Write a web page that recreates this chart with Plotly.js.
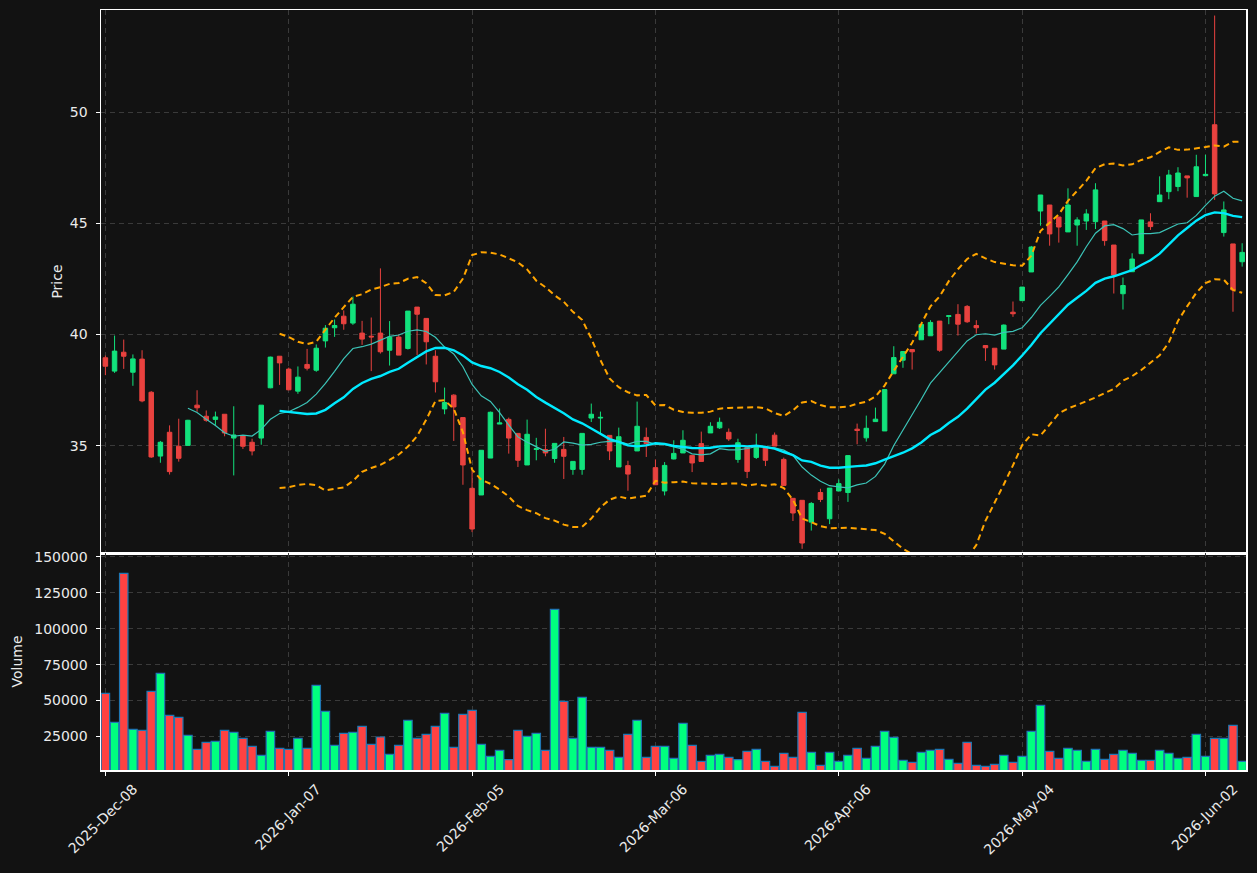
<!DOCTYPE html>
<html>
<head>
<meta charset="utf-8">
<script src="https://cdn.plot.ly/plotly-3.0.1.min.js"></script>
<style>
html,body{margin:0;padding:0;background:#121212;}
#chart{width:1257px;height:873px;}
</style>
</head>
<body>
<div id="chart"></div>
<script>
// Tick labels (trading-day index -> date)
const tickIndex = [0, 20, 40, 60, 80, 100, 120];
const tickLabels = ['2025-Dec-08', '2026-Jan-07', '2026-Feb-05', '2026-Mar-06', '2026-Apr-06', '2026-May-04', '2026-Jun-02'];

// OHLC per trading day
const opens = [38.95,38.35,39.20,38.30,38.89,37.40,34.53,35.60,34.97,35.01,
  36.82,36.32,36.18,36.41,35.34,35.45,35.15,35.34,37.60,39.02,
  38.44,37.45,38.65,38.39,39.71,40.30,40.82,40.51,40.06,39.92,
  40.06,39.29,39.88,39.37,41.23,40.72,39.02,36.65,37.27,36.26,
  33.08,32.78,34.44,35.97,36.18,35.55,34.13,34.83,34.82,34.42,
  34.83,33.93,33.93,36.24,36.24,35.46,34.04,34.10,34.76,35.37,
  34.01,32.96,34.40,34.67,34.56,35.09,35.57,35.80,35.60,34.38,
  34.92,34.47,34.91,35.47,34.38,32.63,32.54,31.56,32.89,31.71,
  32.96,32.89,35.74,35.35,36.08,35.66,38.23,38.84,39.32,39.76,
  39.94,40.60,40.81,40.90,41.26,40.40,39.50,39.38,39.34,41.00,
  41.52,42.81,45.55,45.82,45.28,44.61,44.92,45.10,45.07,45.10,
  44.02,41.83,42.82,43.63,45.06,45.97,46.42,46.65,47.13,46.20,
  47.14,49.43,44.58,44.07,43.27];
const highs = [39.05,39.95,39.77,39.10,39.29,37.45,35.21,35.91,36.21,36.16,
  37.49,36.58,36.53,36.41,36.77,35.45,35.31,36.82,39.00,39.02,
  38.51,38.56,39.35,39.55,40.42,40.67,41.08,41.70,40.61,40.76,
  42.97,40.60,40.00,41.05,41.23,40.72,39.29,37.61,37.31,36.26,
  33.89,34.79,36.53,36.67,36.26,35.55,36.17,35.35,35.76,35.10,
  35.39,34.29,35.55,36.89,36.53,35.46,35.81,34.32,36.98,35.81,
  34.38,34.26,35.24,35.69,34.56,35.63,36.05,36.26,35.77,35.31,
  34.92,35.54,34.91,35.59,34.46,32.63,32.54,32.46,33.06,33.09,
  33.48,34.55,35.99,36.35,36.71,37.52,39.47,39.23,39.32,40.45,
  40.64,40.60,40.87,41.36,41.32,40.64,39.50,39.38,40.45,41.48,
  42.13,43.98,46.27,45.82,45.28,46.57,45.27,45.63,46.80,45.10,
  44.02,42.56,43.65,45.15,45.45,47.11,47.40,47.52,47.13,48.08,
  48.08,54.34,45.98,44.07,44.10];
const lows = [38.17,38.27,38.45,37.69,36.95,34.45,34.23,33.70,34.28,34.99,
  36.52,36.07,35.91,35.42,33.66,34.85,34.56,35.04,37.58,37.73,
  37.49,37.33,38.38,38.32,39.41,39.89,40.21,40.43,39.53,38.35,
  39.14,38.60,39.07,39.32,39.07,38.65,37.39,36.41,35.21,33.24,
  31.11,32.78,34.44,35.97,34.64,34.04,34.13,34.34,34.52,34.23,
  33.50,33.69,33.69,36.06,35.54,34.35,34.04,32.97,34.76,34.49,
  33.24,32.76,34.38,34.67,33.81,34.29,35.57,35.75,35.21,34.23,
  33.54,34.40,34.08,34.98,33.21,31.61,30.36,31.18,32.46,31.47,
  32.96,32.47,35.06,35.18,36.08,35.66,38.23,38.50,38.42,39.76,
  39.94,39.22,40.46,39.95,40.52,40.04,38.81,38.42,39.34,40.79,
  41.52,42.81,44.89,43.99,44.13,44.61,43.99,44.70,44.74,43.99,
  41.84,41.12,42.82,43.63,44.70,45.97,46.08,46.44,46.15,46.20,
  47.14,46.05,44.40,41.02,43.05];
const closes = [38.57,39.25,39.02,38.90,37.01,34.49,35.15,33.83,34.43,36.14,
  36.70,36.14,36.29,35.57,35.48,34.97,34.76,36.82,38.98,38.72,
  37.51,38.08,38.48,39.38,40.28,40.40,40.48,41.36,39.79,39.89,
  39.22,39.88,39.07,41.05,40.91,39.67,37.87,36.94,36.74,34.13,
  31.25,34.79,36.50,36.02,35.34,34.34,35.51,34.86,34.67,35.10,
  34.52,34.29,35.55,36.41,36.27,34.76,35.40,33.72,35.87,35.09,
  33.24,34.11,34.65,35.24,34.22,34.29,35.87,36.05,35.30,35.13,
  33.84,34.94,34.34,34.98,33.21,31.97,30.62,32.40,32.58,33.09,
  33.29,34.55,35.68,35.78,36.19,37.52,38.96,39.23,39.22,40.45,
  40.54,39.29,40.84,40.46,40.57,40.30,39.40,38.63,40.42,40.93,
  42.13,43.93,46.27,44.52,44.83,45.82,45.15,45.42,46.50,44.22,
  42.67,42.20,43.39,45.15,44.85,46.27,47.17,47.26,47.04,47.54,
  47.20,46.32,45.60,42.00,43.69];
const volumes = [54970,34760,138600,29880,29180,56360,68900,39640,38240,25700,
  15940,20820,21520,29180,27790,23600,18030,11760,28480,16640,
  15940,23600,16640,60540,42420,18730,27090,27790,31970,19420,
  24540,12460,18730,36150,23600,26390,31970,41030,17330,40330,
  43120,19420,11060,15240,8740,29180,25000,27090,15240,113500,
  49390,23600,52180,17330,17330,15240,10370,26390,36150,10370,
  18030,18030,9670,34060,18730,7580,11760,12460,10370,8740,
  14550,15940,7580,4090,13150,10370,41730,13850,4790,13850,
  7580,11760,16640,9670,18030,28480,24300,8270,6880,13850,
  15240,15940,8970,6180,20820,4790,4090,5490,11760,6880,
  11060,28480,46600,14550,9670,16640,15240,7580,15940,8970,
  12460,15240,13150,8270,8270,15240,13150,9670,10370,26390,
  11060,23600,23600,32670,7580];

const N = closes.length;
const idx = closes.map((_, i) => i);

function sma(arr, n) {
  return arr.map((_, i) => {
    if (i < n - 1) return null;
    let s = 0;
    for (let k = i - n + 1; k <= i; k++) s += arr[k];
    return s / n;
  });
}
function band(arr, n, k) {
  const m = sma(arr, n);
  return arr.map((_, i) => {
    if (i < n - 1) return null;
    let s = 0;
    for (let j = i - n + 1; j <= i; j++) s += (arr[j] - m[i]) ** 2;
    return m[i] + k * Math.sqrt(s / n);
  });
}
const ma10 = sma(closes, 10);
const ma20 = sma(closes, 20);
const bbUp = band(closes, 20, 2);
const bbLo = band(closes, 20, -2);

const UP = '#00ff7f', DOWN = '#ff4242';
const CUP = '#12e27c', CDOWN = '#e9423f';
const volColors = closes.map((c, i) => c >= opens[i] ? UP : DOWN);

const traces = [
  {type: 'candlestick', x: idx, open: opens, high: highs, low: lows, close: closes,
   xaxis: 'x', yaxis: 'y', whiskerwidth: 0,
   increasing: {line: {color: CUP, width: 1}, fillcolor: CUP},
   decreasing: {line: {color: CDOWN, width: 1}, fillcolor: CDOWN},
   showlegend: false, hoverinfo: 'skip'},
  {type: 'scatter', mode: 'lines', x: idx, y: ma10, xaxis: 'x', yaxis: 'y',
   line: {color: '#3cc4b8', width: 1.2}, showlegend: false, hoverinfo: 'skip'},
  {type: 'scatter', mode: 'lines', x: idx, y: ma20, xaxis: 'x', yaxis: 'y',
   line: {color: '#00eaff', width: 2.4}, showlegend: false, hoverinfo: 'skip'},
  {type: 'scatter', mode: 'lines', x: idx, y: bbUp, xaxis: 'x', yaxis: 'y',
   line: {color: '#ffa500', width: 2, dash: '6px,4px'}, showlegend: false, hoverinfo: 'skip'},
  {type: 'scatter', mode: 'lines', x: idx, y: bbLo, xaxis: 'x', yaxis: 'y',
   line: {color: '#ffa500', width: 2, dash: '6px,4px'}, showlegend: false, hoverinfo: 'skip'},
  {type: 'bar', x: idx, y: volumes, xaxis: 'x2', yaxis: 'y2', width: 0.92,
   marker: {color: volColors, line: {color: '#1f77b4', width: 1.2}},
   showlegend: false, hoverinfo: 'skip'}
];

const font = {family: 'DejaVu Sans, sans-serif', size: 14, color: '#eaeaea'};
const gridStyle = {showgrid: true, gridcolor: '#3a3a3a', gridwidth: 1, griddash: '5px,4px',
  zeroline: false, showline: true, linecolor: '#ffffff', linewidth: 1.5, mirror: true};
const xr = [-0.48, 124.42];

const layout = {
  width: 1257, height: 873,
  paper_bgcolor: '#121212', plot_bgcolor: '#121212',
  font: font,
  margin: {l: 101, r: 11, t: 10, b: 103},
  showlegend: false,
  hovermode: false,
  xaxis: Object.assign({}, gridStyle, {
    domain: [0, 1], anchor: 'y', range: xr, tickvals: tickIndex, ticktext: tickLabels,
    showticklabels: false, ticks: '', rangeslider: {visible: false}
  }),
  yaxis: Object.assign({}, gridStyle, {
    domain: [0.2855, 1], anchor: 'x', range: [30.17, 54.59],
    tickvals: [35, 40, 45, 50], ticks: 'outside', ticklen: 4, tickcolor: '#ffffff',
    ticklabelstandoff: 5,
    title: {text: 'Price', font: font, standoff: 4}
  }),
  xaxis2: Object.assign({}, gridStyle, {
    domain: [0, 1], anchor: 'y2', range: xr, tickvals: tickIndex, ticktext: tickLabels,
    tickangle: -45, ticks: 'outside', ticklen: 4, tickcolor: '#ffffff',
    ticklabelshift: 28
  }),
  yaxis2: Object.assign({}, gridStyle, {
    domain: [0, 0.2855], anchor: 'x2', range: [1540, 152770],
    tickvals: [25000, 50000, 75000, 100000, 125000, 150000], tickformat: 'd',
    ticks: 'outside', ticklen: 4, tickcolor: '#ffffff',
    ticklabelstandoff: 5,
    title: {text: 'Volume', font: font, standoff: 8}
  })
};

Plotly.newPlot('chart', traces, layout, {displayModeBar: false, staticPlot: true});
</script>
</body>
</html>
